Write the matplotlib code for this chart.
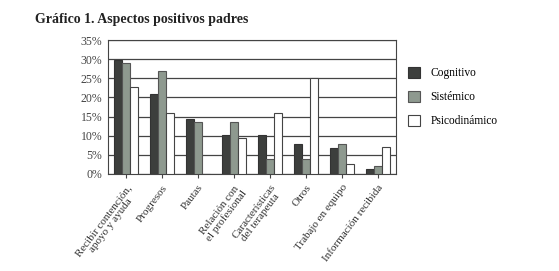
import matplotlib.pyplot as plt
import numpy as np

plt.rcParams['font.family'] = ['Liberation Serif', 'DejaVu Serif']

categorias = ["Recibir contención,\napoyo y ayuda", "Progresos", "Pautas",
              "Relación con\nel profesional", "Características\ndel terapeuta",
              "Otros", "Trabajo en equipo", "Información recibida"]
cognitivo = [29.7, 21.0, 14.4, 10.2, 10.2, 7.9, 6.9, 1.3]
sistemico = [29.0, 27.0, 13.6, 13.6, 4.0, 3.9, 7.9, 2.1]
psicodinamico = [22.8, 16.0, 0.0, 9.4, 16.0, 25.2, 2.5, 7.0]

fig = plt.figure(figsize=(5.59, 2.71), dpi=100)
ax = fig.add_axes([0.193, 0.358, 0.515, 0.494])

x = np.arange(len(categorias))
w = 0.22
ax.bar(x - w, cognitivo, w, color='#3d3f3d', edgecolor='#333333', linewidth=0.8, label='Cognitivo', zorder=3)
ax.bar(x, sistemico, w, color='#8e998f', edgecolor='#555555', linewidth=0.8, label='Sistémico', zorder=3)
ax.bar(x + w, psicodinamico, w, color='white', edgecolor='#444444', linewidth=0.8, label='Psicodinámico', zorder=3)

ax.set_xlim(-0.5, len(categorias) - 0.5)
ax.set_ylim(0, 35)
ax.set_yticks(range(0, 36, 5))
ax.set_yticklabels([f"{v}%" for v in range(0, 36, 5)], fontsize=8.5, color='#444444')
ax.yaxis.grid(True, color='#444444', linewidth=0.9, zorder=0)
ax.tick_params(axis='y', length=0, pad=4)
ax.tick_params(axis='x', length=3, color='#444444')
ax.set_xticks(x)
ax.set_xticklabels(categorias, rotation=53, ha='right', rotation_mode='anchor',
                   fontsize=8, color='#333333', linespacing=1.0,
                   multialignment='center')
for s in ax.spines.values():
    s.set_color('#444444')

ax.legend(loc='upper left', bbox_to_anchor=(1.005, 0.88), frameon=False, fontsize=8.3,
          handlelength=1.1, handleheight=1.1, labelspacing=1.0, handletextpad=0.9)

fig.text(0.063, 0.915, "Gráfico 1. Aspectos positivos padres", fontsize=10,
         fontweight='bold', color='#222222')

fig.savefig('out.png', dpi=100)
